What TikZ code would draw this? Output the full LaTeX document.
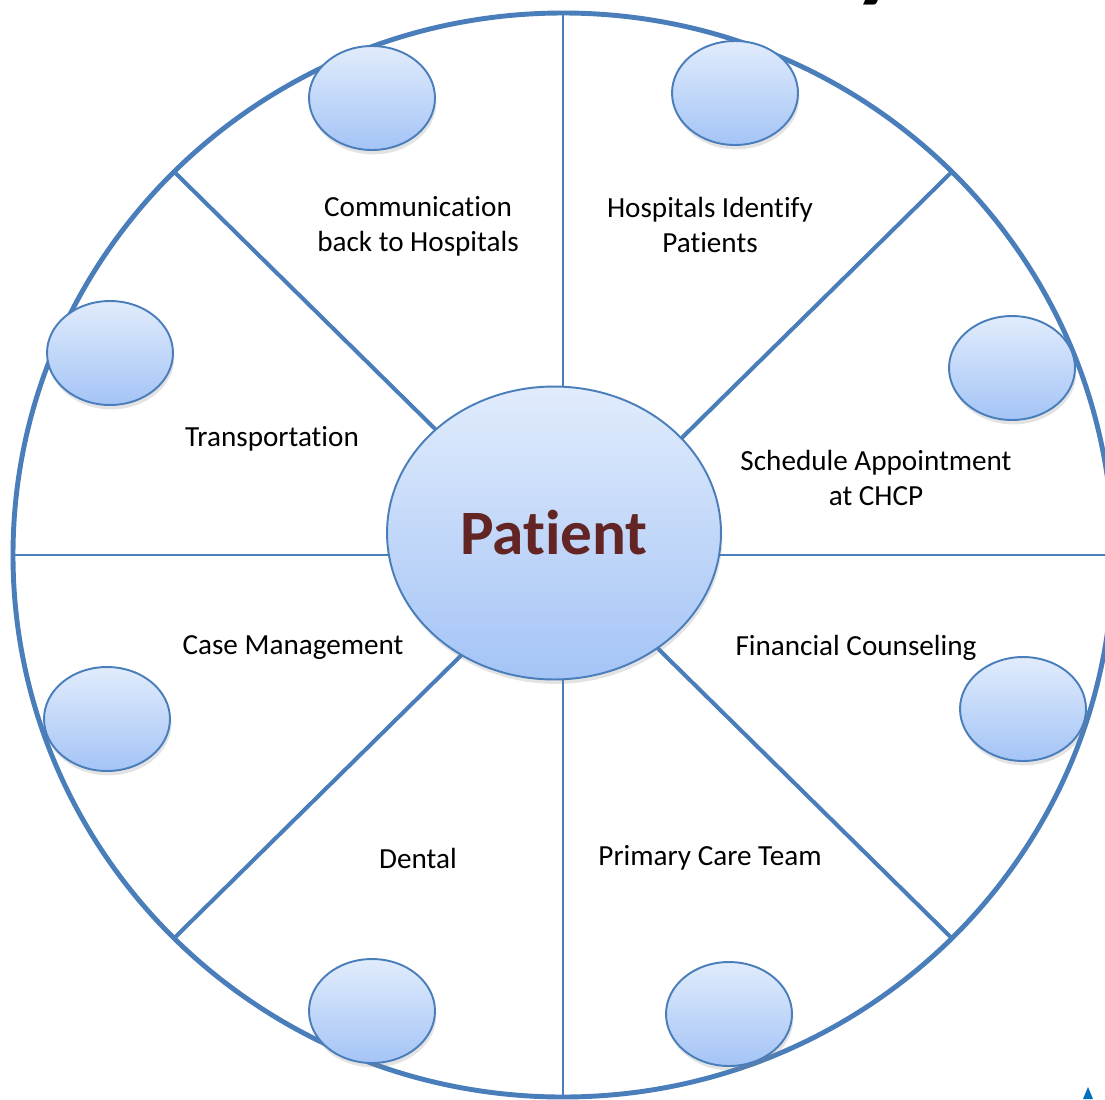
\documentclass[tikz,border=0pt]{standalone}
\usepackage{fontspec}
\setmainfont{Carlito}[Ligatures={NoCommon}]
\usepackage{tikz}
\usetikzlibrary{calc}
\usetikzlibrary{shapes.geometric}
\usetikzlibrary{shadows}
\definecolor{rimblue}{RGB}{74,126,187}
\definecolor{bubtop}{RGB}{225,236,252}
\definecolor{bubbot}{RGB}{164,196,246}
\definecolor{patred}{RGB}{99,37,35}
\definecolor{logoblue}{RGB}{0,112,192}

\begin{document}
\begin{tikzpicture}[x=0.02cm, y=-0.02cm,
  bubble/.style={ellipse, draw=rimblue, line width=1.1pt, top color=bubtop, bottom color=bubbot,
    drop shadow={shadow xshift=0.8pt, shadow yshift=-2.5pt, opacity=0.22},
    minimum width=2.52cm, minimum height=2.08cm, inner sep=0pt},
  lab/.style={align=center, font=\fontsize{16.6}{19.9}\selectfont, inner sep=0pt}]
  \useasboundingbox (0,0) rectangle (1105,1099);
  % 标题残留与角标
  \node[font=\fontsize{60}{60}\selectfont\bfseries, anchor=base, inner sep=0pt] (ttl) at (878,-12) {y};
  \fill[logoblue] (1083,1099) -- (1088,1087) -- (1093,1099) -- cycle;
  % 轮盘中心与外圈
  \coordinate (CC) at (563,555);
  \draw[rimblue, line width=2.8pt] (CC) ellipse [x radius=550, y radius=542];
  % 外圈上的辐条端点
  \foreach \a in {0,45,...,315}
  {
    \coordinate (RM\a) at ($(CC)+(\a:550 and 542)$);% 外圈交点
  }
  % 绘制辐条
  \foreach \a in {0,90,180,270}
  {
    \draw[rimblue, line width=1.1pt] (RM\a) -- (CC);
  }
  \foreach \a in {45,135,225,315}
  {
    \draw[rimblue, line width=2.3pt] (RM\a) -- (CC);
  }
  % 中心椭圆
  \node[bubble, minimum width=6.68cm, minimum height=5.86cm,
    font=\fontsize{36}{40}\selectfont\bfseries, text=patred] (pat) at (554,533) {Patient};
  % 八个小椭圆
  \foreach \n/\x/\y in {1/372/98, 2/735/93, 3/110/353, 4/1012/368,
                        5/107/719, 6/1023/709, 7/372/1011, 8/729/1014}
  {
    \node[bubble] (bub\n) at (\x,\y) {};
  }
  % 各扇区文字
  \node[lab] (lab1) at (418,226) {Communication\\back to Hospitals};
  \node[lab] (lab2) at (710,225) {Hospitals Identify\\Patients};
  \node[lab] (lab3) at (272,439) {Transportation};
  \node[lab] (lab4) at (876,478) {Schedule Appointment\\at CHCP};
  \node[lab] (lab5) at (293,648) {Case Management};
  \node[lab] (lab6) at (856,648) {Financial Counseling};
  \node[lab] (lab7) at (418,858) {Dental};
  \node[lab] (lab8) at (710,858) {Primary Care Team};
\end{tikzpicture}
\end{document}
